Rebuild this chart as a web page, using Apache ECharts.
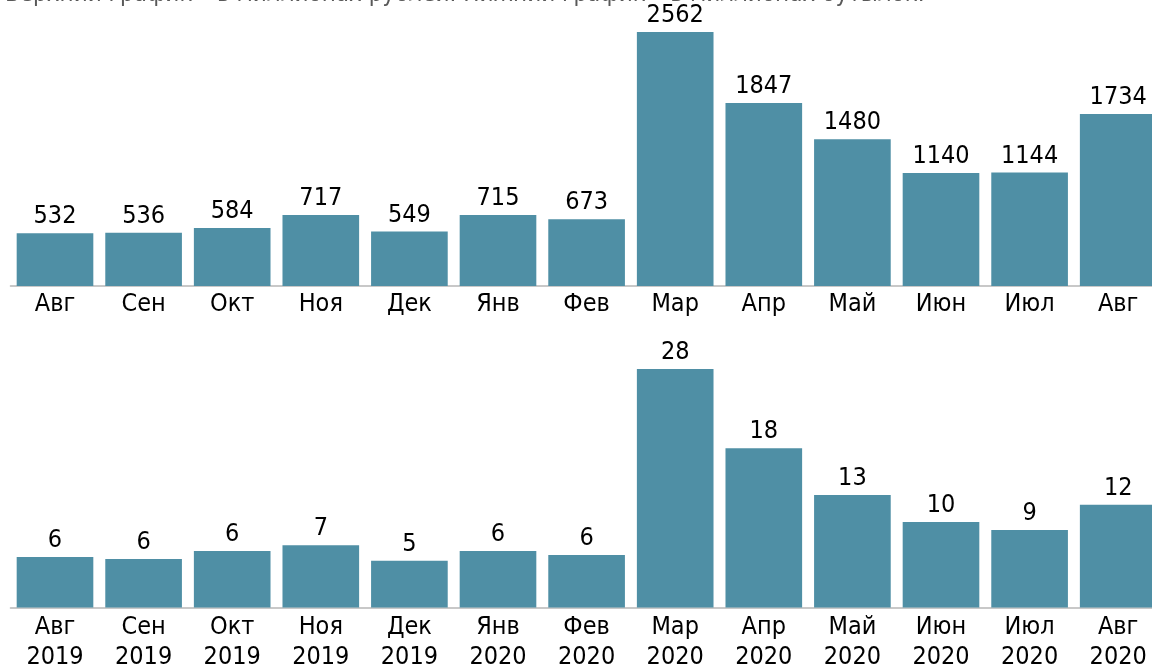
<!DOCTYPE html>
<html>
<head>
<meta charset="utf-8">
<script src="https://cdn.jsdelivr.net/npm/echarts@6/dist/echarts.min.js"></script>
<style>
html,body{margin:0;padding:0;background:#fff;overflow:hidden;}
#c{width:1152px;height:666px;}
</style>
</head>
<body>
<div id="c"></div>
<script>
const monthsTop = ['Авг','Сен','Окт','Ноя','Дек','Янв','Фев','Мар','Апр','Май','Июн','Июл','Авг'];
const monthsBottom = ['Авг\n2019','Сен\n2019','Окт\n2019','Ноя\n2019','Дек\n2019','Янв\n2020','Фев\n2020','Мар\n2020','Апр\n2020','Май\n2020','Июн\n2020','Июл\n2020','Авг\n2020'];
const rublesMln = [532,536,584,717,549,715,673,2562,1847,1480,1140,1144,1734];
const bottlesMln = [5.93,5.69,6.63,7.30,5.49,6.63,6.16,28,18.69,13.21,10.04,9.10,12.07];
const bottlesLabels = [6,6,6,7,5,6,6,28,18,13,10,9,12];
const titleText = 'Верхний график – в миллионах рублей. Нижний график – в миллионах бутылок.';

const FONT = "'DejaVu Sans Condensed', 'DejaVu Sans', sans-serif";
const BAR = '#4f8fa5';
const chart = echarts.init(document.getElementById('c'), null, {renderer:'canvas'});
const gridLeft = 10.7, gridWidth = 1151.8;
chart.setOption({
  animation:false,
  backgroundColor:'#fff',
  graphic:[{type:'text', left:5, top:-17, style:{text:titleText, font:"24px "+FONT, fill:'#595959'}}],
  grid:[
    {left:gridLeft, width:gridWidth, top:32, height:254, outerBoundsMode:'none', containLabel:false},
    {left:gridLeft, width:gridWidth, top:369, height:238.5, outerBoundsMode:'none', containLabel:false}
  ],
  xAxis:[
    {type:'category', gridIndex:0, data:monthsTop,
     axisLine:{lineStyle:{color:'#c8c8c8', width:2}}, axisTick:{show:false},
     axisLabel:{color:'#000', fontSize:25, fontFamily:FONT, margin:6, interval:0}},
    {type:'category', gridIndex:1, data:monthsBottom,
     axisLine:{lineStyle:{color:'#c8c8c8', width:2}}, axisTick:{show:false},
     axisLabel:{color:'#000', fontSize:25, fontFamily:FONT, margin:5, interval:0, lineHeight:30}}
  ],
  yAxis:[
    {type:'value', gridIndex:0, min:0, max:'dataMax', show:false, splitLine:{show:false}},
    {type:'value', gridIndex:1, min:0, max:'dataMax', show:false, splitLine:{show:false}}
  ],
  series:[
    {type:'bar', xAxisIndex:0, yAxisIndex:0, data:rublesMln, barCategoryGap:'13.5%',
     itemStyle:{color:BAR},
     label:{show:true, position:'top', distance:4, color:'#000', fontSize:25, fontFamily:FONT}},
    {type:'bar', xAxisIndex:1, yAxisIndex:1, data:bottlesMln, barCategoryGap:'13.5%',
     itemStyle:{color:BAR},
     label:{show:true, position:'top', distance:4, color:'#000', fontSize:25, fontFamily:FONT,
       formatter:p => String(bottlesLabels[p.dataIndex])}}
  ]
});
</script>
</body>
</html>
